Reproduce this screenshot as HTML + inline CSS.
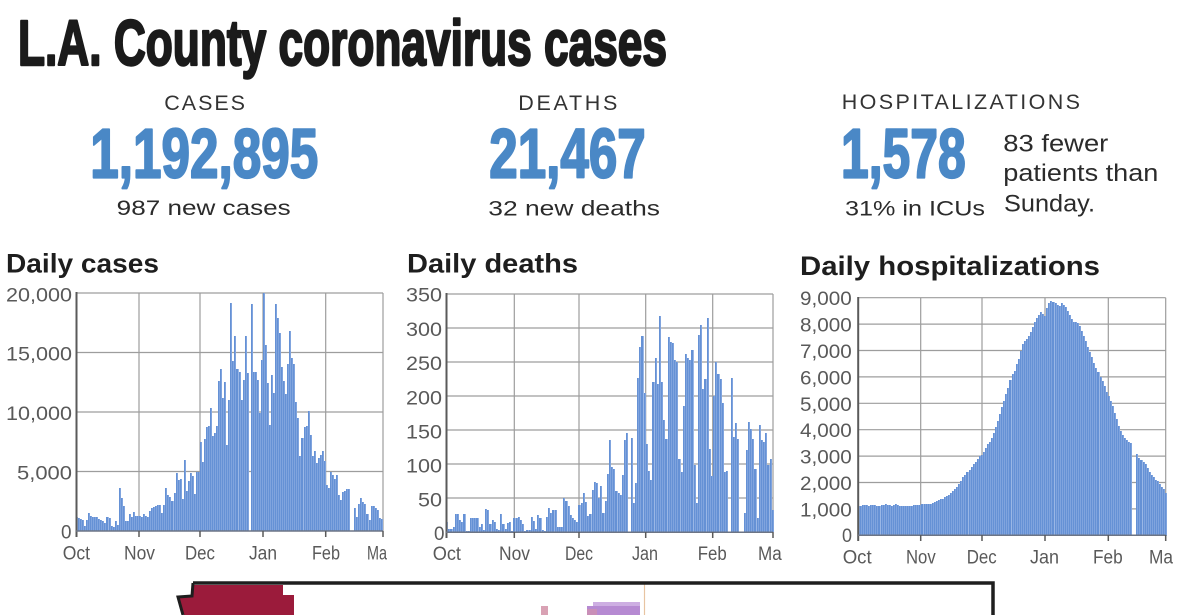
<!DOCTYPE html>
<html><head><meta charset="utf-8"><style>
html,body{margin:0;padding:0;background:#fff;}
body{width:1200px;height:615px;overflow:hidden;position:relative;font-family:"Liberation Sans",sans-serif;}
svg.layer{position:absolute;left:0;top:0;}
#bg{z-index:0;}
#fg{z-index:2;}
.bars{position:absolute;display:flex;align-items:flex-end;z-index:1;}
.bars i{flex:1 1 0;display:block;min-width:0;background:linear-gradient(90deg,#6591d5 0,#6591d5 70%,#9ab7e6 70%,#9ab7e6 100%);}
.c1{left:76px;top:293px;width:307px;height:238px;}
.c1 i{height:calc(var(--v)*11.9px);}
.c2{left:446px;top:294px;width:327px;height:238px;}
.c2 i{height:calc(var(--v)*0.68px);}
.c3{left:858px;top:298px;width:308px;height:237.5px;}
.c3 i{height:calc(var(--v)*26.4px);}
</style></head><body>

<svg id="bg" class="layer" width="1200" height="615" viewBox="0 0 1200 615">
<g stroke="#9d9d9d" stroke-width="1.2" fill="none">
<!-- chart 1 grid -->
<path d="M76 293H383M76 352.5H383M76 412H383M76 471.5H383"/>
<path d="M139 293V531M200 293V531M263 293V531M325.7 293V531M383 293V531"/>
<!-- chart 2 grid -->
<path d="M446 294H773M446 328H773M446 362H773M446 396H773M446 430H773M446 464H773M446 498H773"/>
<path d="M514.3 294V532M579 294V532M645.7 294V532M712.7 294V532M773 294V532"/>
<!-- chart 3 grid -->
<path d="M858 297.7H1165.7M858 324.1H1165.7M858 350.5H1165.7M858 376.9H1165.7M858 403.3H1165.7M858 429.7H1165.7M858 456.1H1165.7M858 482.5H1165.7M858 508.9H1165.7"/>
<path d="M920.7 297.7V535.3M982 297.7V535.3M1045 297.7V535.3M1108.3 297.7V535.3M1165.7 297.7V535.3"/>
</g>
<!-- map fragment -->
<polygon points="194,585 283,585 283,595 294,595 294,615 184,615 179,598 192,597" fill="#9b1b3b"/>
<rect x="593" y="602" width="47" height="5" fill="#cdaee2"/>
<rect x="587" y="606" width="53" height="9" fill="#b68ad2"/>
<rect x="587" y="609" width="10" height="6" fill="#c98fb8"/>
<rect x="541" y="606" width="7" height="9" fill="#d9a2b4"/>
<line x1="644.5" y1="584" x2="644.5" y2="615" stroke="#e8c4a2" stroke-width="1.2"/>
<polyline points="193,583 993,583 993,615" fill="none" stroke="#1e1e1e" stroke-width="3.5"/>
<polyline points="193,583 192,596 178,597 183,615" fill="none" stroke="#1e1e1e" stroke-width="3"/>
</svg>

<div class="bars c1"><i style="--v:1.2"></i><i style="--v:1.1"></i><i style="--v:1.0"></i><i style="--v:0.9"></i><i style="--v:0.4"></i><i style="--v:0.9"></i><i style="--v:1.5"></i><i style="--v:1.3"></i><i style="--v:1.2"></i><i style="--v:1.2"></i><i style="--v:1.2"></i><i style="--v:1.0"></i><i style="--v:0.9"></i><i style="--v:0.8"></i><i style="--v:0.7"></i><i style="--v:1.2"></i><i style="--v:1.1"></i><i style="--v:0.4"></i><i style="--v:0.3"></i><i style="--v:0.8"></i><i style="--v:0.5"></i><i style="--v:3.6"></i><i style="--v:2.8"></i><i style="--v:2.1"></i><i style="--v:0.8"></i><i style="--v:0.8"></i><i style="--v:1.4"></i><i style="--v:1.2"></i><i style="--v:1.6"></i><i style="--v:1.3"></i><i style="--v:1.3"></i><i style="--v:1.3"></i><i style="--v:1.2"></i><i style="--v:1.4"></i><i style="--v:1.3"></i><i style="--v:1.2"></i><i style="--v:1.7"></i><i style="--v:1.9"></i><i style="--v:2.0"></i><i style="--v:2.1"></i><i style="--v:2.2"></i><i style="--v:2.2"></i><i style="--v:1.5"></i><i style="--v:2.2"></i><i style="--v:3.6"></i><i style="--v:3.0"></i><i style="--v:2.9"></i><i style="--v:2.5"></i><i style="--v:3.2"></i><i style="--v:4.9"></i><i style="--v:4.3"></i><i style="--v:4.4"></i><i style="--v:2.7"></i><i style="--v:6.0"></i><i style="--v:3.4"></i><i style="--v:4.2"></i><i style="--v:4.9"></i><i style="--v:4.6"></i><i style="--v:3.1"></i><i style="--v:5.0"></i><i style="--v:5.0"></i><i style="--v:7.5"></i><i style="--v:5.8"></i><i style="--v:7.7"></i><i style="--v:8.7"></i><i style="--v:8.8"></i><i style="--v:10.3"></i><i style="--v:8.0"></i><i style="--v:8.2"></i><i style="--v:8.8"></i><i style="--v:12.6"></i><i style="--v:13.6"></i><i style="--v:11.2"></i><i style="--v:12.5"></i><i style="--v:7.2"></i><i style="--v:11.0"></i><i style="--v:19.2"></i><i style="--v:14.3"></i><i style="--v:16.4"></i><i style="--v:13.6"></i><i style="--v:13.4"></i><i style="--v:11.0"></i><i style="--v:12.7"></i><i style="--v:16.4"></i><i style="--v:13.3"></i><i style="--v:0"></i><i style="--v:19.1"></i><i style="--v:13.4"></i><i style="--v:13.4"></i><i style="--v:12.7"></i><i style="--v:9.9"></i><i style="--v:14.4"></i><i style="--v:20.0"></i><i style="--v:15.6"></i><i style="--v:12.4"></i><i style="--v:8.9"></i><i style="--v:13.1"></i><i style="--v:11.6"></i><i style="--v:19.1"></i><i style="--v:17.9"></i><i style="--v:16.6"></i><i style="--v:13.8"></i><i style="--v:12.6"></i><i style="--v:11.5"></i><i style="--v:14.0"></i><i style="--v:16.8"></i><i style="--v:14.5"></i><i style="--v:14.0"></i><i style="--v:10.8"></i><i style="--v:9.5"></i><i style="--v:6.3"></i><i style="--v:7.8"></i><i style="--v:8.7"></i><i style="--v:8.8"></i><i style="--v:10.1"></i><i style="--v:8.1"></i><i style="--v:6.3"></i><i style="--v:6.7"></i><i style="--v:5.7"></i><i style="--v:6.1"></i><i style="--v:6.4"></i><i style="--v:6.7"></i><i style="--v:5.9"></i><i style="--v:3.9"></i><i style="--v:3.6"></i><i style="--v:5.0"></i><i style="--v:4.7"></i><i style="--v:4.4"></i><i style="--v:4.7"></i><i style="--v:3.0"></i><i style="--v:2.6"></i><i style="--v:3.3"></i><i style="--v:3.4"></i><i style="--v:3.5"></i><i style="--v:3.5"></i><i style="--v:0"></i><i style="--v:0"></i><i style="--v:1.9"></i><i style="--v:1.2"></i><i style="--v:2.3"></i><i style="--v:2.8"></i><i style="--v:2.4"></i><i style="--v:2.3"></i><i style="--v:1.4"></i><i style="--v:0.9"></i><i style="--v:2.1"></i><i style="--v:2.1"></i><i style="--v:1.9"></i><i style="--v:1.8"></i><i style="--v:1.1"></i><i style="--v:1.0"></i></div>

<div class="bars c2"><i style="--v:15"></i><i style="--v:5"></i><i style="--v:5"></i><i style="--v:8"></i><i style="--v:27"></i><i style="--v:27"></i><i style="--v:18"></i><i style="--v:14"></i><i style="--v:26"></i><i style="--v:2"></i><i style="--v:2"></i><i style="--v:20"></i><i style="--v:21"></i><i style="--v:21"></i><i style="--v:21"></i><i style="--v:8"></i><i style="--v:12"></i><i style="--v:3"></i><i style="--v:34"></i><i style="--v:32"></i><i style="--v:12"></i><i style="--v:17"></i><i style="--v:14"></i><i style="--v:5"></i><i style="--v:3"></i><i style="--v:26"></i><i style="--v:12"></i><i style="--v:5"></i><i style="--v:13"></i><i style="--v:15"></i><i style="--v:2"></i><i style="--v:20"></i><i style="--v:20"></i><i style="--v:22"></i><i style="--v:18"></i><i style="--v:12"></i><i style="--v:2"></i><i style="--v:3"></i><i style="--v:3"></i><i style="--v:22"></i><i style="--v:16"></i><i style="--v:4"></i><i style="--v:25"></i><i style="--v:20"></i><i style="--v:3"></i><i style="--v:2"></i><i style="--v:22"></i><i style="--v:35"></i><i style="--v:28"></i><i style="--v:32"></i><i style="--v:32"></i><i style="--v:8"></i><i style="--v:8"></i><i style="--v:7"></i><i style="--v:50"></i><i style="--v:45"></i><i style="--v:38"></i><i style="--v:25"></i><i style="--v:20"></i><i style="--v:17"></i><i style="--v:15"></i><i style="--v:40"></i><i style="--v:43"></i><i style="--v:58"></i><i style="--v:44"></i><i style="--v:23"></i><i style="--v:27"></i><i style="--v:62"></i><i style="--v:73"></i><i style="--v:72"></i><i style="--v:50"></i><i style="--v:68"></i><i style="--v:28"></i><i style="--v:45"></i><i style="--v:85"></i><i style="--v:136"></i><i style="--v:96"></i><i style="--v:93"></i><i style="--v:60"></i><i style="--v:58"></i><i style="--v:55"></i><i style="--v:84"></i><i style="--v:136"></i><i style="--v:145"></i><i style="--v:0"></i><i style="--v:138"></i><i style="--v:42"></i><i style="--v:72"></i><i style="--v:226"></i><i style="--v:272"></i><i style="--v:288"></i><i style="--v:205"></i><i style="--v:130"></i><i style="--v:90"></i><i style="--v:77"></i><i style="--v:220"></i><i style="--v:256"></i><i style="--v:218"></i><i style="--v:318"></i><i style="--v:220"></i><i style="--v:165"></i><i style="--v:137"></i><i style="--v:287"></i><i style="--v:280"></i><i style="--v:278"></i><i style="--v:253"></i><i style="--v:250"></i><i style="--v:107"></i><i style="--v:88"></i><i style="--v:185"></i><i style="--v:262"></i><i style="--v:256"></i><i style="--v:253"></i><i style="--v:268"></i><i style="--v:98"></i><i style="--v:42"></i><i style="--v:290"></i><i style="--v:305"></i><i style="--v:210"></i><i style="--v:225"></i><i style="--v:315"></i><i style="--v:122"></i><i style="--v:83"></i><i style="--v:200"></i><i style="--v:250"></i><i style="--v:232"></i><i style="--v:225"></i><i style="--v:190"></i><i style="--v:88"></i><i style="--v:90"></i><i style="--v:0"></i><i style="--v:226"></i><i style="--v:140"></i><i style="--v:160"></i><i style="--v:137"></i><i style="--v:0"></i><i style="--v:0"></i><i style="--v:28"></i><i style="--v:120"></i><i style="--v:162"></i><i style="--v:152"></i><i style="--v:137"></i><i style="--v:93"></i><i style="--v:21"></i><i style="--v:157"></i><i style="--v:136"></i><i style="--v:132"></i><i style="--v:145"></i><i style="--v:98"></i><i style="--v:107"></i><i style="--v:32"></i></div>

<div class="bars c3"><i style="--v:1.10"></i><i style="--v:1.12"></i><i style="--v:1.15"></i><i style="--v:1.14"></i><i style="--v:1.16"></i><i style="--v:1.13"></i><i style="--v:1.15"></i><i style="--v:1.17"></i><i style="--v:1.14"></i><i style="--v:1.12"></i><i style="--v:1.13"></i><i style="--v:1.15"></i><i style="--v:1.16"></i><i style="--v:1.18"></i><i style="--v:1.17"></i><i style="--v:1.15"></i><i style="--v:1.10"></i><i style="--v:1.14"></i><i style="--v:1.18"></i><i style="--v:1.16"></i><i style="--v:1.13"></i><i style="--v:1.12"></i><i style="--v:1.12"></i><i style="--v:1.11"></i><i style="--v:1.10"></i><i style="--v:1.12"></i><i style="--v:1.13"></i><i style="--v:1.15"></i><i style="--v:1.17"></i><i style="--v:1.16"></i><i style="--v:1.15"></i><i style="--v:1.18"></i><i style="--v:1.20"></i><i style="--v:1.19"></i><i style="--v:1.18"></i><i style="--v:1.20"></i><i style="--v:1.22"></i><i style="--v:1.28"></i><i style="--v:1.32"></i><i style="--v:1.36"></i><i style="--v:1.38"></i><i style="--v:1.40"></i><i style="--v:1.44"></i><i style="--v:1.48"></i><i style="--v:1.55"></i><i style="--v:1.62"></i><i style="--v:1.70"></i><i style="--v:1.78"></i><i style="--v:1.85"></i><i style="--v:1.95"></i><i style="--v:2.05"></i><i style="--v:2.20"></i><i style="--v:2.30"></i><i style="--v:2.40"></i><i style="--v:2.50"></i><i style="--v:2.60"></i><i style="--v:2.70"></i><i style="--v:2.80"></i><i style="--v:2.90"></i><i style="--v:3.00"></i><i style="--v:3.05"></i><i style="--v:3.15"></i><i style="--v:3.30"></i><i style="--v:3.45"></i><i style="--v:3.55"></i><i style="--v:3.70"></i><i style="--v:3.90"></i><i style="--v:4.10"></i><i style="--v:4.35"></i><i style="--v:4.60"></i><i style="--v:4.85"></i><i style="--v:5.10"></i><i style="--v:5.35"></i><i style="--v:5.60"></i><i style="--v:5.90"></i><i style="--v:6.10"></i><i style="--v:6.25"></i><i style="--v:6.50"></i><i style="--v:6.70"></i><i style="--v:7.00"></i><i style="--v:7.25"></i><i style="--v:7.35"></i><i style="--v:7.45"></i><i style="--v:7.55"></i><i style="--v:7.70"></i><i style="--v:7.90"></i><i style="--v:8.10"></i><i style="--v:8.25"></i><i style="--v:8.35"></i><i style="--v:8.45"></i><i style="--v:8.40"></i><i style="--v:8.30"></i><i style="--v:8.60"></i><i style="--v:8.80"></i><i style="--v:8.90"></i><i style="--v:8.85"></i><i style="--v:8.80"></i><i style="--v:8.75"></i><i style="--v:8.70"></i><i style="--v:8.80"></i><i style="--v:8.75"></i><i style="--v:8.65"></i><i style="--v:8.50"></i><i style="--v:8.35"></i><i style="--v:8.20"></i><i style="--v:8.10"></i><i style="--v:8.10"></i><i style="--v:8.05"></i><i style="--v:7.95"></i><i style="--v:7.75"></i><i style="--v:7.55"></i><i style="--v:7.35"></i><i style="--v:7.15"></i><i style="--v:6.95"></i><i style="--v:6.75"></i><i style="--v:6.55"></i><i style="--v:6.35"></i><i style="--v:6.20"></i><i style="--v:6.00"></i><i style="--v:5.85"></i><i style="--v:5.65"></i><i style="--v:5.45"></i><i style="--v:5.30"></i><i style="--v:5.10"></i><i style="--v:4.90"></i><i style="--v:4.65"></i><i style="--v:4.40"></i><i style="--v:4.15"></i><i style="--v:3.95"></i><i style="--v:3.80"></i><i style="--v:3.70"></i><i style="--v:3.60"></i><i style="--v:3.55"></i><i style="--v:3.50"></i><i style="--v:0"></i><i style="--v:0"></i><i style="--v:3.10"></i><i style="--v:2.95"></i><i style="--v:2.85"></i><i style="--v:2.80"></i><i style="--v:2.70"></i><i style="--v:2.55"></i><i style="--v:2.40"></i><i style="--v:2.30"></i><i style="--v:2.20"></i><i style="--v:2.10"></i><i style="--v:2.05"></i><i style="--v:1.95"></i><i style="--v:1.85"></i><i style="--v:1.75"></i><i style="--v:1.60"></i></div>

<svg id="fg" class="layer" width="1200" height="615" viewBox="0 0 1200 615" font-family="Liberation Sans, sans-serif">
<!-- axes -->
<g stroke="#5a5a5a" fill="none">
<path d="M76.5 292V537" stroke-width="2"/>
<path d="M76 531H383" stroke-width="1.5" stroke="#6d7585"/>
<path d="M139 531V537M200 531V537M263 531V537M325.7 531V537M383 531V537" stroke-width="1.5"/>
<path d="M446.5 293V538" stroke-width="2"/>
<path d="M446 532.3H773" stroke-width="1.5" stroke="#6d7585"/>
<path d="M514.3 532V538M579 532V538M645.7 532V538M712.7 532V538M773 532V538" stroke-width="1.5"/>
<path d="M858.2 297V541" stroke-width="2"/>
<path d="M858 535.3H1165.7" stroke-width="1.5" stroke="#6d7585"/>
<path d="M920.7 535V541M982 535V541M1045 535V541M1108.3 535V541M1165.7 535V541" stroke-width="1.5"/>
</g>

<!-- title -->
<text x="18" y="65" font-size="64" font-weight="bold" fill="#1b1b1b" stroke="#1b1b1b" stroke-width="2.4" stroke-linejoin="round" textLength="649" lengthAdjust="spacingAndGlyphs">L.A. County coronavirus cases</text>

<!-- stat labels -->
<g font-size="21.5" fill="#333">
<text x="164.3" y="110" textLength="80.7" lengthAdjust="spacing">CASES</text>
<text x="518.3" y="110" textLength="99" lengthAdjust="spacing">DEATHS</text>
<text x="841.7" y="109" textLength="238.3" lengthAdjust="spacing">HOSPITALIZATIONS</text>
</g>
<g font-size="70" font-weight="bold" fill="#4a88c6" stroke="#4a88c6" stroke-width="2.2" stroke-linejoin="round">
<text x="90.3" y="177.5" textLength="228" lengthAdjust="spacingAndGlyphs">1,192,895</text>
<text x="489.3" y="177.5" textLength="156.4" lengthAdjust="spacingAndGlyphs">21,467</text>
<text x="841" y="177.5" textLength="124.7" lengthAdjust="spacingAndGlyphs">1,578</text>
</g>
<g font-size="21.5" fill="#2b2b2b">
<text x="116.7" y="215" textLength="174" lengthAdjust="spacingAndGlyphs">987 new cases</text>
<text x="488.3" y="215.5" textLength="171.7" lengthAdjust="spacingAndGlyphs">32 new deaths</text>
<text x="845" y="215.5" textLength="140" lengthAdjust="spacingAndGlyphs">31% in ICUs</text>
</g>
<g font-size="24" fill="#2b2b2b">
<text x="1003.3" y="151.5" textLength="105" lengthAdjust="spacingAndGlyphs">83 fewer</text>
<text x="1003.3" y="181" textLength="155" lengthAdjust="spacingAndGlyphs">patients than</text>
<text x="1004" y="211.5" textLength="91" lengthAdjust="spacingAndGlyphs">Sunday.</text>
</g>

<!-- chart titles -->
<g font-size="27" font-weight="bold" fill="#1e1e1e">
<text x="6" y="272.7" textLength="153" lengthAdjust="spacingAndGlyphs">Daily cases</text>
<text x="407" y="272.7" textLength="171" lengthAdjust="spacingAndGlyphs">Daily deaths</text>
<text x="800" y="275" textLength="300" lengthAdjust="spacingAndGlyphs">Daily hospitalizations</text>
</g>

<!-- axis labels -->
<g font-size="19" fill="#595959">
<text x="6" y="301.5" textLength="66" lengthAdjust="spacingAndGlyphs">20,000</text>
<text x="6" y="360.7" textLength="66" lengthAdjust="spacingAndGlyphs">15,000</text>
<text x="6" y="420" textLength="66" lengthAdjust="spacingAndGlyphs">10,000</text>
<text x="17" y="479.3" textLength="55" lengthAdjust="spacingAndGlyphs">5,000</text>
<text x="61" y="538.3" textLength="10.5" lengthAdjust="spacingAndGlyphs">0</text>
<text x="62.7" y="559.3" textLength="27.3" lengthAdjust="spacingAndGlyphs">Oct</text>
<text x="124" y="559.3" textLength="31" lengthAdjust="spacingAndGlyphs">Nov</text>
<text x="185" y="559.3" textLength="30" lengthAdjust="spacingAndGlyphs">Dec</text>
<text x="249" y="559.3" textLength="28" lengthAdjust="spacingAndGlyphs">Jan</text>
<text x="312" y="559.3" textLength="28" lengthAdjust="spacingAndGlyphs">Feb</text>
<text x="367" y="559.3" textLength="20" lengthAdjust="spacingAndGlyphs">Ma</text>

<text x="406" y="301.7" textLength="36" lengthAdjust="spacingAndGlyphs">350</text>
<text x="406" y="336" textLength="36" lengthAdjust="spacingAndGlyphs">300</text>
<text x="406" y="370" textLength="36" lengthAdjust="spacingAndGlyphs">250</text>
<text x="406" y="404.3" textLength="36" lengthAdjust="spacingAndGlyphs">200</text>
<text x="406" y="438.7" textLength="36" lengthAdjust="spacingAndGlyphs">150</text>
<text x="406" y="472.3" textLength="36" lengthAdjust="spacingAndGlyphs">100</text>
<text x="418" y="506.7" textLength="24" lengthAdjust="spacingAndGlyphs">50</text>
<text x="434" y="540" textLength="10.5" lengthAdjust="spacingAndGlyphs">0</text>
<text x="432.7" y="560" textLength="28.3" lengthAdjust="spacingAndGlyphs">Oct</text>
<text x="499" y="560" textLength="31" lengthAdjust="spacingAndGlyphs">Nov</text>
<text x="565" y="560" textLength="28" lengthAdjust="spacingAndGlyphs">Dec</text>
<text x="632" y="560" textLength="26" lengthAdjust="spacingAndGlyphs">Jan</text>
<text x="697.7" y="560" textLength="29" lengthAdjust="spacingAndGlyphs">Feb</text>
<text x="758" y="560" textLength="23.7" lengthAdjust="spacingAndGlyphs">Ma</text>

<text x="800" y="305.2" textLength="51.7" lengthAdjust="spacingAndGlyphs">9,000</text>
<text x="800" y="331.6" textLength="51.7" lengthAdjust="spacingAndGlyphs">8,000</text>
<text x="800" y="358" textLength="51.7" lengthAdjust="spacingAndGlyphs">7,000</text>
<text x="800" y="384.4" textLength="51.7" lengthAdjust="spacingAndGlyphs">6,000</text>
<text x="800" y="410.8" textLength="51.7" lengthAdjust="spacingAndGlyphs">5,000</text>
<text x="800" y="437.2" textLength="51.7" lengthAdjust="spacingAndGlyphs">4,000</text>
<text x="800" y="463.6" textLength="51.7" lengthAdjust="spacingAndGlyphs">3,000</text>
<text x="800" y="490" textLength="51.7" lengthAdjust="spacingAndGlyphs">2,000</text>
<text x="800" y="516.4" textLength="51.7" lengthAdjust="spacingAndGlyphs">1,000</text>
<text x="842" y="542" textLength="10" lengthAdjust="spacingAndGlyphs">0</text>
<text x="842.7" y="563.3" textLength="29" lengthAdjust="spacingAndGlyphs">Oct</text>
<text x="906" y="563.3" textLength="29.7" lengthAdjust="spacingAndGlyphs">Nov</text>
<text x="966.7" y="563.3" textLength="30" lengthAdjust="spacingAndGlyphs">Dec</text>
<text x="1030" y="563.3" textLength="29" lengthAdjust="spacingAndGlyphs">Jan</text>
<text x="1093" y="563.3" textLength="29.7" lengthAdjust="spacingAndGlyphs">Feb</text>
<text x="1149" y="563.3" textLength="24" lengthAdjust="spacingAndGlyphs">Ma</text>
</g>
</svg>
</body></html>
